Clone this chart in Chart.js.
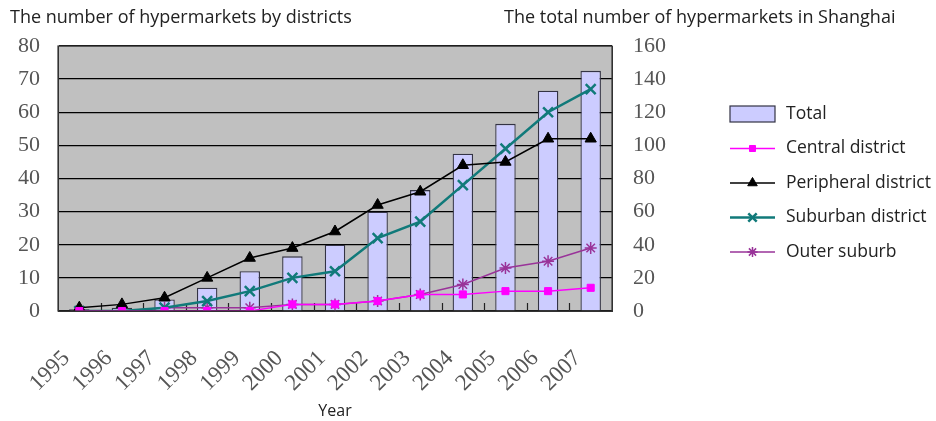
<!DOCTYPE html>
<html>
<head>
<meta charset="utf-8">
<script src="https://cdn.jsdelivr.net/npm/chart.js@4/dist/chart.umd.min.js"></script>
<style>
  html, body { margin: 0; padding: 0; background: #fff; }
  #wrap { width: 936px; height: 421px; position: relative; }
</style>
</head>
<body>
<div id="wrap"><canvas id="grafico"></canvas></div>
<script>
const anos = ['1995', '1996', '1997', '1998', '1999', '2000', '2001', '2002', '2003', '2004', '2005', '2006', '2007'];
const total = [1, 2, 7, 14, 24, 33, 40, 60, 73, 95, 113, 133, 145];
const central = [0, 0, 0, 0, 0, 2, 2, 3, 5, 5, 6, 6, 7];
const peripheral = [1, 2, 4, 10, 16, 19, 24, 32, 36, 44, 45, 52, 52];
const suburban = [0, 0, 1, 3, 6, 10, 12, 22, 27, 38, 49, 60, 67];
const outer = [0, 0, 1, 1, 1, 2, 2, 3, 5, 8, 13, 15, 19];
const ticksEsquerda = [0, 10, 20, 30, 40, 50, 60, 70, 80];
const ticksDireita = [0, 20, 40, 60, 80, 100, 120, 140, 160];

const fonteSans = '"Open Sans", "Noto Sans", sans-serif';
const fonteSerif = '"Liberation Serif", "DejaVu Serif", serif';

// fundo cinza, tiques internos, moldura, títulos e legenda
const moldura = {
    id: 'moldura',
    beforeDraw(chart) {
        const { ctx, chartArea: a } = chart;
        ctx.save();
        ctx.fillStyle = '#c0c0c0';
        ctx.fillRect(a.left, a.top, a.right - a.left, a.bottom - a.top);
        ctx.restore();
    },
    beforeDatasetsDraw(chart) {
        const { ctx, chartArea: a } = chart;
        const n = anos.length;
        const passo = (a.right - a.left) / n;
        ctx.save();
        ctx.strokeStyle = '#222';
        ctx.lineWidth = 1.2;
        ctx.beginPath();
        for (let i = 1; i < n; i++) {
            const x = Math.round(a.left + i * passo) + 0.5;
            ctx.moveTo(x, a.bottom);
            ctx.lineTo(x, a.bottom - 8);
        }
        ctx.stroke();
        ctx.restore();
    },
    afterDraw(chart) {
        const { ctx, chartArea: a } = chart;
        ctx.save();
        ctx.strokeStyle = '#333';
        ctx.lineWidth = 1.2;
        ctx.strokeRect(a.left, a.top, a.right - a.left, a.bottom - a.top);

        ctx.fillStyle = '#222';
        ctx.font = '18px ' + fonteSans;
        ctx.textBaseline = 'middle';
        ctx.textAlign = 'left';
        ctx.fillText('The number of hypermarkets by districts', 10, 18);
        ctx.fillText('The total number of hypermarkets in Shanghai', 504, 18);

        // legenda
        const x0 = 730, x1 = 775, xt = 786;
        let y = 114;
        ctx.font = '17.5px ' + fonteSans;
        chart.data.datasets.forEach(ds => {
            if (ds.type === 'line') {
                ctx.strokeStyle = ds.borderColor;
                ctx.lineWidth = ds.borderWidth;
                ctx.beginPath();
                ctx.moveTo(x0, y);
                ctx.lineTo(x1, y);
                ctx.stroke();
                ctx.fillStyle = ds.pointBackgroundColor;
                ctx.strokeStyle = ds.pointBorderColor;
                ctx.lineWidth = ds.pointBorderWidth;
                Chart.helpers.drawPoint(ctx, {
                    pointStyle: ds.pointStyle, radius: ds.pointRadius * 0.85,
                    borderWidth: ds.pointBorderWidth, rotation: 0
                }, (x0 + x1) / 2, y);
            } else {
                ctx.fillStyle = ds.backgroundColor;
                ctx.strokeStyle = ds.borderColor;
                ctx.lineWidth = 1.2;
                ctx.fillRect(x0, y - 8, x1 - x0, 16);
                ctx.strokeRect(x0, y - 8, x1 - x0, 16);
            }
            ctx.fillStyle = '#222';
            ctx.fillText(ds.label, xt, y);
            y += 34.5;
        });
        ctx.restore();
    }
};

function serie(label, data, cor, estilo, raio, espessura, larguraPonto) {
    return {
        type: 'line', label, data, yAxisID: 'y', order: 1,
        borderColor: cor, borderWidth: espessura,
        pointStyle: estilo, pointRadius: raio,
        pointBackgroundColor: cor, pointBorderColor: cor,
        pointBorderWidth: larguraPonto, pointHoverRadius: raio,
        tension: 0, fill: false
    };
}

new Chart(document.getElementById('grafico'), {
    type: 'bar',
    data: {
        labels: anos,
        datasets: [
            {
                type: 'bar', label: 'Total', data: total, yAxisID: 'y1', order: 5,
                backgroundColor: '#ccccff', borderColor: '#333344', borderWidth: 1.3,
                barPercentage: 0.48, categoryPercentage: 1
            },
            serie('Central district', central, '#ff00ff', 'rect', 5, 1.5, 1),
            serie('Peripheral district', peripheral, '#000000', 'triangle', 6.5, 1.5, 1),
            serie('Suburban district', suburban, '#117a7a', 'crossRot', 7, 2.5, 2.5),
            serie('Outer suburb', outer, '#993399', 'star', 6, 1.5, 1.5)
        ]
    },
    options: {
        responsive: true,
        maintainAspectRatio: false,
        animation: false,
        layout: { padding: { left: 0, right: 249, top: 46, bottom: 0 } },
        plugins: { legend: { display: false }, tooltip: { enabled: false } },
        scales: {
            x: {
                grid: { display: false },
                border: { display: true, color: '#333' },
                afterFit: s => { s.height = 110; },
                ticks: {
                    color: '#555', font: { family: fonteSerif, size: 23 }, autoSkip: false,
                    minRotation: 45, maxRotation: 45, labelOffset: -13, padding: 26
                },
                title: {
                    display: true, text: 'Year', color: '#222',
                    font: { family: fonteSans, size: 16 }, padding: { top: 0, bottom: 0 }
                }
            },
            y: {
                position: 'left', min: 0, max: 80,
                afterBuildTicks: s => { s.ticks = ticksEsquerda.map(v => ({ value: v })); },
                afterFit: s => { s.width = 58; },
                grid: { color: '#000', lineWidth: 1.3, drawTicks: false },
                border: { display: true, color: '#333' },
                ticks: { color: '#555', font: { family: fonteSerif, size: 22 }, padding: 18 }
            },
            y1: {
                position: 'right', min: 0, max: 160,
                afterBuildTicks: s => { s.ticks = ticksDireita.map(v => ({ value: v })); },
                grid: { drawOnChartArea: false, drawTicks: false },
                border: { display: true, color: '#333' },
                ticks: { color: '#555', font: { family: fonteSerif, size: 22 }, padding: 21 }
            }
        }
    },
    plugins: [moldura]
});
</script>
</body>
</html>
